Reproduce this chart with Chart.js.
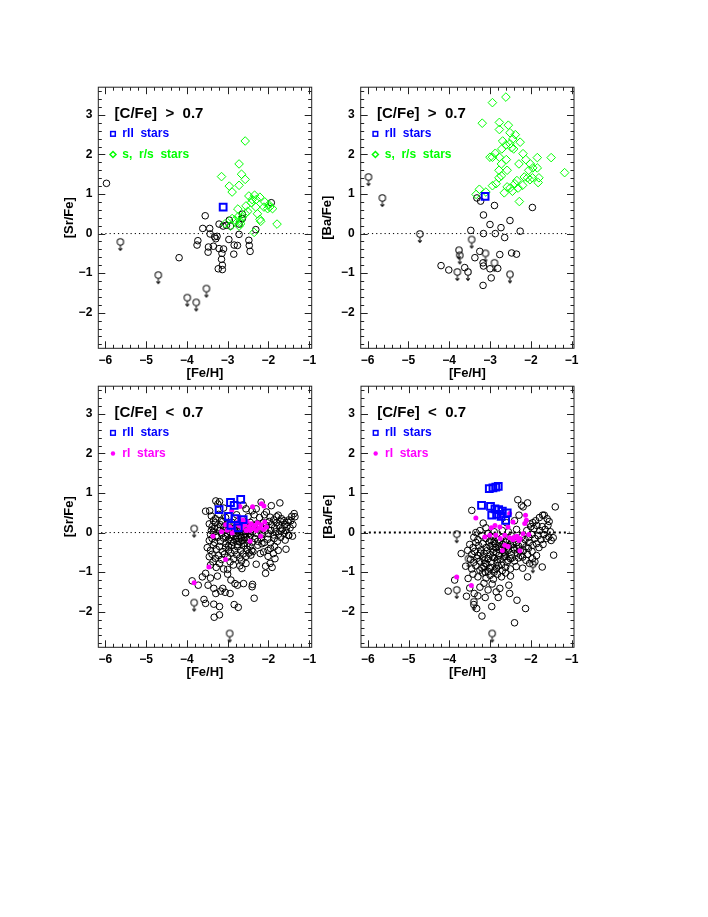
<!DOCTYPE html>
<html>
<head>
<meta charset="utf-8">
<script src="https://cdn.jsdelivr.net/npm/chart.js@4.4.1/dist/chart.umd.min.js"></script>
<style>
  html, body { margin: 0; padding: 0; background: #fff; width: 708px; height: 917px; overflow: hidden; }
  canvas { position: absolute; }
</style>
</head>
<body>
<script>
// values: [ [Fe/H], [X/Fe] ]
const xTicks = [-6, -5, -4, -3, -2, -1];
const yTicks = [-2, -1, 0, 1, 2, 3];

// --- [Sr/Fe], [C/Fe] > 0.7
const srCempStars = [[-5.97,1.27],[-4.19,-0.61],[-3.55,0.45],[-3.61,0.13],[-3.44,0.13],[-3.43,-0.01],[-3.73,-0.18],[-3.75,-0.29],[-3.47,-0.34],[-3.48,-0.47],[-3.32,-0.08],[-3.29,-0.13],[-3.26,-0.07],[-3.35,-0.32],[-3.21,0.24],[-3.21,-0.38],[-3.14,-0.50],[-3.15,-0.65],[-3.23,-0.89],[-3.13,-0.91],[-3.13,-0.80],[-3.10,-0.39],[-3.11,0.19],[-3.03,0.21],[-2.97,-0.15],[-2.93,0.19],[-2.96,0.34],[-2.84,-0.29],[-2.76,-0.30],[-2.85,-0.52],[-2.72,-0.02],[-2.64,0.49],[-2.64,0.38],[-2.72,0.24],[-2.48,-0.17],[-2.47,-0.30],[-2.45,-0.45],[-2.31,0.10],[-1.93,0.78]];
const srCempLimits = [[-5.63,-0.21],[-4.70,-1.05],[-3.99,-1.62],[-3.77,-1.74],[-3.52,-1.39]];
const srCempSrs = [[-2.57,2.34],[-2.72,1.76],[-2.66,1.50],[-2.57,1.37],[-3.15,1.44],[-2.96,1.20],[-2.89,1.05],[-2.72,1.22],[-2.48,0.95],[-2.40,0.86],[-2.34,0.97],[-2.30,0.86],[-2.21,0.92],[-2.42,0.78],[-2.55,0.70],[-2.75,0.62],[-2.51,0.56],[-2.31,0.67],[-2.27,0.50],[-2.21,0.36],[-2.19,0.31],[-2.09,0.80],[-2.11,0.67],[-1.99,0.73],[-1.97,0.67],[-1.90,0.63],[-2.02,0.63],[-1.79,0.24],[-2.35,0.03],[-2.57,0.50],[-2.64,0.42],[-2.75,0.42],[-2.82,0.34],[-2.89,0.38],[-2.69,0.31],[-2.72,0.19],[-3.06,0.25],[-2.93,0.19],[-2.68,0.25]];
const srCempR2 = [[-3.11,0.67]];

// --- [Ba/Fe], [C/Fe] > 0.7
const baCempStars = [[-3.47,0.08],[-4.20,-0.81],[-4.01,-0.92],[-3.62,-0.86],[-3.37,-0.61],[-3.25,-0.45],[-3.16,-0.82],[-3.17,-0.74],[-3.17,-1.31],[-3.16,0.00],[-3.16,0.47],[-3.32,0.90],[-3.23,0.82],[-3.00,-0.89],[-2.97,-1.12],[-2.81,-0.88],[-2.76,-0.53],[-3.00,0.23],[-2.87,0.00],[-2.73,0.15],[-2.64,-0.10],[-2.89,0.71],[-2.51,0.33],[-2.26,0.06],[-2.47,-0.49],[-2.35,-0.52],[-1.96,0.66]];
const baCempLimits = [[-5.98,1.43],[-5.64,0.90],[-4.72,-0.01],[-3.45,-0.15],[-3.76,-0.42],[-3.74,-0.55],[-3.80,-0.97],[-3.54,-0.97],[-3.11,-0.50],[-2.89,-0.74],[-2.51,-1.03]];
const baCempSrs = [[-2.61,3.45],[-2.94,3.31],[-3.19,2.79],[-2.77,2.81],[-2.77,2.63],[-2.55,2.74],[-2.51,2.55],[-2.38,2.50],[-2.44,2.39],[-2.69,2.34],[-2.61,2.24],[-2.51,2.27],[-2.47,2.17],[-2.42,2.14],[-2.26,2.31],[-2.71,2.14],[-2.87,2.03],[-3.00,1.93],[-2.94,1.93],[-2.77,1.93],[-2.60,1.87],[-2.72,1.76],[-2.19,2.02],[-2.12,1.87],[-2.29,1.76],[-1.84,1.92],[-1.50,1.92],[-1.17,1.54],[-2.58,1.60],[-2.78,1.60],[-2.72,1.46],[-2.78,1.41],[-2.01,1.76],[-2.05,1.60],[-1.95,1.66],[-1.84,1.66],[-2.16,1.43],[-2.34,1.34],[-2.08,1.41],[-1.96,1.41],[-1.80,1.41],[-1.82,1.29],[-2.02,1.36],[-2.58,1.18],[-2.51,1.15],[-2.45,1.07],[-2.31,1.15],[-2.39,1.26],[-2.20,1.22],[-2.94,1.21],[-2.85,1.26],[-3.26,1.12],[-3.34,0.99],[-3.10,1.05],[-2.65,1.03],[-2.28,0.81]];
const baCempR2 = [[-3.12,0.94]];

// --- [Sr/Fe], [C/Fe] < 0.7
const srNormStars = [
  [-3.29,0.80],[-3.20,0.78],[-3.24,0.72],[-2.18,0.77],[-1.72,0.75],[-2.62,0.70],
  [-3.54,0.54],[-3.44,0.55],[-3.10,0.62],[-2.55,0.60],[-2.40,0.55],[-2.30,0.60],[-1.93,0.68],[-2.05,0.52],
  [-3.40,0.42],[-3.30,0.35],[-3.22,0.46],[-3.15,0.30],[-3.05,0.38],[-2.78,0.45],[-2.50,0.40],[-2.35,0.45],[-2.22,0.38],[-2.10,0.45],[-1.96,0.39],[-1.87,0.32],[-1.80,0.40],[-1.76,0.44],[-1.68,0.35],[-1.62,0.30],[-1.50,0.32],[-1.43,0.41],[-1.37,0.48],[-1.35,0.40],[-1.45,0.30],[-3.35,0.30],
  [-3.45,0.22],[-3.38,0.15],[-3.30,0.25],[-3.25,0.12],[-3.18,0.20],[-3.12,0.28],[-3.08,0.15],[-3.00,0.22],[-2.90,0.26],[-2.82,0.20],[-2.75,0.28],[-2.70,0.18],[-2.58,0.24],[-2.50,0.15],[-2.45,0.26],[-2.36,0.18],[-2.28,0.22],[-2.20,0.14],[-2.12,0.25],[-2.05,0.18],[-1.98,0.28],[-1.92,0.20],[-1.85,0.12],[-1.80,0.25],[-1.74,0.18],[-1.70,0.28],[-1.66,0.10],[-1.60,0.20],[-1.55,0.15],[-1.52,0.26],[-1.47,0.12],[-1.40,0.20],[-3.40,0.05],[-3.32,0.10],
  [-3.42,-0.05],[-3.35,0.02],[-3.28,-0.08],[-3.20,0.05],[-3.15,-0.03],[-3.06,0.06],[-3.00,-0.06],[-2.95,0.02],[-2.88,-0.05],[-2.83,0.05],[-2.78,-0.02],[-2.72,0.06],[-2.68,-0.07],[-2.62,0.02],[-2.56,-0.04],[-2.50,0.05],[-2.44,-0.06],[-2.38,0.03],[-2.30,-0.02],[-2.22,0.06],[-2.16,-0.05],[-2.08,0.04],[-2.00,-0.03],[-1.94,0.05],[-1.88,-0.06],[-1.82,0.02],[-1.75,-0.04],[-1.69,0.04],[-1.62,-0.02],[-1.51,-0.07],[-1.41,-0.09],[-1.57,0.05],
  [-3.05,-0.10],[-2.98,0.08],[-2.92,-0.22],[-2.85,0.00],[-2.80,-0.08],[-2.76,-0.30],[-2.72,-0.16],[-2.68,0.10],[-2.64,-0.20],[-2.60,-0.06],[-2.56,0.10],[-2.52,-0.28],[-2.48,-0.02],[-2.44,0.12],[-2.98,-0.34],[-2.90,0.10],[-3.02,0.12],[-2.70,-0.24],[-2.58,-0.12],[-2.66,0.02],
  [-3.45,-0.20],[-3.38,-0.15],[-3.32,-0.25],[-3.25,-0.12],[-3.18,-0.22],[-3.10,-0.14],[-3.04,-0.28],[-2.98,-0.18],[-2.92,-0.12],[-2.86,-0.25],[-2.80,-0.16],[-2.74,-0.22],[-2.66,-0.13],[-2.60,-0.27],[-2.53,-0.18],[-2.47,-0.12],[-2.40,-0.24],[-2.33,-0.15],[-2.26,-0.22],[-2.18,-0.14],[-2.10,-0.25],[-2.02,-0.17],[-1.95,-0.26],[-1.86,-0.15],[-1.78,-0.22],[-1.70,-0.12],[-1.59,-0.19],[-1.50,-0.07],
  [-3.50,-0.38],[-3.42,-0.45],[-3.35,-0.32],[-3.28,-0.42],[-3.20,-0.35],[-3.12,-0.48],[-3.05,-0.38],[-2.97,-0.44],[-2.90,-0.33],[-2.83,-0.46],[-2.76,-0.36],[-2.68,-0.45],[-2.60,-0.34],[-2.52,-0.42],[-2.45,-0.35],[-2.38,-0.48],[-2.26,-0.32],[-2.16,-0.28],[-2.01,-0.45],[-1.95,-0.40],[-1.76,-0.45],[-1.57,-0.42],[-1.85,-0.35],
  [-3.45,-0.61],[-3.38,-0.55],[-3.30,-0.65],[-3.22,-0.58],[-3.15,-0.68],[-3.08,-0.55],[-3.00,-0.62],[-2.92,-0.52],[-2.85,-0.66],[-2.78,-0.56],[-2.70,-0.64],[-2.62,-0.54],[-2.55,-0.60],[-2.48,-0.52],[-2.43,-0.57],[-2.41,-0.45],[-2.20,-0.53],[-2.12,-0.49],[-1.88,-0.53],[-1.84,-0.66],[-2.01,-0.60],
  [-3.42,-0.82],[-3.36,-0.74],[-3.28,-0.88],[-3.20,-0.78],[-3.10,-0.92],[-3.00,-0.93],[-2.94,-0.74],[-2.86,-0.82],[-2.70,-0.84],[-2.66,-0.72],[-2.65,-0.91],[-2.55,-0.78],[-2.30,-0.80],[-1.96,-0.78],[-1.91,-0.88],[-2.07,-0.85],
  [-4.03,-1.52],[-3.87,-1.22],[-3.72,-1.33],[-3.54,-1.03],[-3.42,-1.15],[-3.48,-1.33],[-3.34,-1.41],[-3.17,-1.48],[-3.29,-1.54],[-3.12,-1.41],[-3.06,-1.51],[-2.92,-1.20],[-2.82,-1.29],[-2.61,-1.29],[-2.39,-1.31],[-2.40,-1.37],[-2.76,-1.33],[-2.94,-1.54],[-3.58,-1.69],[-3.54,-1.79],[-3.34,-1.81],[-3.20,-1.87],[-3.33,-2.14],[-3.20,-2.08],[-2.84,-1.82],[-2.74,-1.89],[-2.35,-1.66],[-2.07,-1.03],[-3.00,-1.05],[-3.25,-1.10],[-3.62,-1.12]
];
const srNormLimits = [[-3.82,0.10],[-3.82,-1.77],[-2.95,-2.55]];
const srNormR1 = [[-3.82,-1.27],[-3.46,-0.87],[-3.05,-0.68],[-3.36,-0.09],[-3.15,0.02],[-3.01,0.06],[-2.89,-0.01],[-2.90,0.56],[-2.70,0.66],[-2.39,0.65],[-2.17,0.73],[-2.11,0.67],[-2.45,-0.22],[-2.19,-0.09],[-2.09,0.27],[-2.05,0.14],[-2.78,0.25],[-2.72,0.18],[-2.65,0.12],[-2.58,0.20],[-2.52,0.28],[-2.48,0.15],[-2.42,0.22],[-2.38,0.10],[-2.32,0.18],[-2.27,0.25],[-2.22,0.12],[-2.18,0.20],[-2.12,0.08],[-2.62,0.32],[-2.55,0.05],[-2.45,0.05],[-2.30,0.05],[-2.85,0.10],[-2.95,0.15],[-3.05,0.20],[-2.72,0.39]];
const srNormR2 = [[-3.21,0.58],[-2.93,0.76],[-2.84,0.69],[-2.68,0.84],[-2.98,0.41],[-2.82,0.35],[-2.62,0.33],[-2.92,0.18],[-2.74,0.12]];

// --- [Ba/Fe], [C/Fe] < 0.7
const baNormStars = [
  [-3.45,0.56],[-2.32,0.83],[-2.19,0.65],[-2.08,0.75],[-1.40,0.65],[-2.23,0.69],
  [-3.17,0.24],[-2.29,0.44],[-1.71,0.44],[-1.67,0.44],[-1.79,0.38],[-1.88,0.30],[-1.95,0.25],[-2.02,0.22],[-1.60,0.35],[-1.55,0.28],[-2.40,0.30],[-2.60,0.25],
  [-3.35,0.00],[-3.25,0.05],[-3.10,0.12],[-2.00,0.15],[-1.92,0.10],[-1.85,0.18],[-1.78,0.05],[-1.72,0.15],[-1.65,0.08],[-1.58,0.18],[-1.52,0.02],[-2.10,0.05],[-2.35,0.08],[-2.55,0.02],[-2.70,0.05],[-2.90,0.02],[-3.05,-0.02],
  [-3.40,-0.12],[-3.30,-0.18],[-3.20,-0.08],[-3.10,-0.15],[-2.98,-0.19],[-2.92,-0.10],[-2.80,-0.18],[-2.70,-0.12],[-2.60,-0.19],[-2.48,-0.08],[-2.40,-0.16],[-2.22,-0.10],[-2.14,-0.18],[-2.05,-0.12],[-1.98,-0.05],[-1.90,-0.15],[-1.82,-0.08],[-1.75,-0.18],[-1.68,-0.05],[-1.62,-0.15],[-1.56,-0.11],[-1.45,-0.13],[-1.50,-0.20],
  [-3.50,-0.30],[-3.42,-0.38],[-3.35,-0.25],[-3.28,-0.33],[-3.18,-0.28],[-3.10,-0.38],[-3.02,-0.24],[-2.95,-0.32],[-2.86,-0.38],[-2.78,-0.26],[-2.72,-0.36],[-2.62,-0.24],[-2.50,-0.30],[-2.42,-0.38],[-2.36,-0.26],[-2.30,-0.34],[-2.20,-0.28],[-2.12,-0.36],[-2.04,-0.25],[-1.95,-0.32],[-1.86,-0.28],[-1.80,-0.38],[-1.70,-0.30],[-2.90,-0.22],[-2.55,-0.36],
  [-3.71,-0.53],[-3.55,-0.45],[-3.45,-0.55],[-3.38,-0.48],[-3.30,-0.58],[-3.22,-0.44],[-3.15,-0.52],[-3.08,-0.46],[-3.00,-0.56],[-2.93,-0.42],[-2.85,-0.50],[-2.78,-0.58],[-2.70,-0.44],[-2.63,-0.54],[-2.56,-0.46],[-2.48,-0.56],[-2.40,-0.44],[-2.33,-0.52],[-2.25,-0.58],[-2.18,-0.46],[-2.08,-0.55],[-1.97,-0.48],[-1.86,-0.58],[-1.44,-0.57],
  [-3.00,-0.35],[-2.94,-0.62],[-2.88,-0.28],[-2.82,-0.68],[-2.76,-0.44],[-2.72,-0.82],[-2.68,-0.30],[-2.64,-0.60],[-2.60,-0.42],[-2.56,-0.70],[-2.52,-0.20],[-2.46,-0.64],[-2.44,-0.30],[-3.08,-0.80],[-3.02,-0.90],[-2.90,-1.00],[-3.12,-1.00],[-2.84,-0.90],[-3.20,-0.90],[-2.66,-0.50],[-2.78,-0.36],[-2.92,-0.50],[-3.14,-0.70],[-3.24,-0.52],[-2.34,-0.40],[-2.26,-0.46],[-2.20,-0.62],[-2.06,-0.40],
  [-3.48,-0.68],[-3.40,-0.75],[-3.32,-0.65],[-3.25,-0.72],[-3.18,-0.62],[-3.12,-0.78],[-3.05,-0.66],[-2.98,-0.74],[-2.90,-0.64],[-2.82,-0.76],[-2.75,-0.68],[-2.66,-0.62],[-2.58,-0.75],[-2.50,-0.66],[-2.40,-0.72],[-2.30,-0.64],[-2.12,-0.70],[-2.03,-0.78],[-1.96,-0.66],[-1.90,-0.74],[-1.72,-0.87],
  [-3.60,-0.85],[-3.45,-0.92],[-3.35,-0.84],[-3.25,-0.95],[-3.15,-0.86],[-3.05,-0.98],[-2.98,-0.88],[-2.88,-0.94],[-2.80,-0.84],[-2.70,-0.96],[-2.62,-0.88],[-2.50,-0.92],[-2.36,-0.86],[-2.20,-0.90],
  [-3.87,-1.20],[-3.54,-1.16],[-3.42,-1.05],[-3.30,-1.12],[-3.18,-1.02],[-3.10,-1.15],[-3.00,-1.08],[-2.92,-1.18],[-2.82,-1.05],[-2.72,-1.12],[-2.62,-1.02],[-2.08,-1.12],[-2.50,-1.10],
  [-4.03,-1.48],[-3.58,-1.61],[-3.40,-1.82],[-3.33,-1.92],[-3.20,-2.11],[-2.96,-1.87],[-3.12,-1.64],[-2.80,-1.64],[-2.40,-2.28],[-2.34,-1.71],[-2.13,-1.92],[-2.76,-1.41],[-2.54,-1.33],[-2.52,-1.54],[-3.39,-1.54],[-3.25,-1.38],[-3.05,-1.45],[-2.95,-1.30],[-3.15,-1.28],[-2.85,-1.50],[-3.50,-1.40],[-3.30,-1.60]
];
const baNormLimits = [[-3.82,-0.04],[-3.82,-1.45],[-2.95,-2.55],[-3.53,-0.66],[-1.95,-0.80],[-3.40,-1.75]];
const baNormR1 = [[-3.82,-1.12],[-3.46,-1.34],[-3.35,0.37],[-2.52,0.48],[-2.13,0.44],[-2.11,0.31],[-2.15,0.23],[-2.44,0.27],[-2.88,0.18],[-2.97,0.12],[-2.76,0.14],[-2.56,0.14],[-3.01,-0.07],[-3.13,-0.11],[-2.86,-0.07],[-2.75,-0.15],[-2.64,-0.07],[-2.52,-0.13],[-2.44,-0.18],[-2.34,-0.09],[-2.26,-0.15],[-2.19,-0.03],[-2.05,-0.05],[-2.64,-0.32],[-2.56,-0.35],[-2.70,-0.45],[-2.27,-0.46],[-2.29,-0.20],[-2.76,0.39],[-2.40,-0.11],[-2.32,-0.15]];
const baNormR2 = [[-3.02,1.11],[-2.93,1.13],[-2.86,1.15],[-2.80,1.17],[-3.21,0.69],[-2.99,0.66],[-2.88,0.60],[-2.79,0.58],[-2.70,0.54],[-2.58,0.50],[-2.96,0.44],[-2.84,0.46],[-2.73,0.41],[-2.62,0.31]];

const X_MIN = -6.17, X_MAX = -0.94, Y_MIN = -2.9, Y_MAX = 3.7;
const FONT = '"Liberation Sans", Arial, sans-serif';
const pts = arr => arr.map(([x, y]) => ({ x, y }));
const fmt = v => (v < 0 ? '\u2212' + Math.abs(v) : String(v));

// open circle with a short downward arrow (upper limit)
function limitMarker() {
    const c = document.createElement('canvas');
    c.width = 14; c.height = 30;
    const g = c.getContext('2d');
    g.strokeStyle = '#111';
    g.lineWidth = 1.1;
    g.beginPath(); g.arc(7, 15, 3.2, 0, 2 * Math.PI); g.stroke();
    g.beginPath();
    g.moveTo(7, 18.2); g.lineTo(7, 23.5);
    g.moveTo(5.2, 21.3); g.lineTo(7, 23.5); g.lineTo(8.8, 21.3);
    g.stroke();
    return c;
}
const limitImg = limitMarker();

// frame with inward ticks on all sides + in-plot legend text
const framePlugin = {
    id: 'frame',
    afterDatasetsDraw(chart, args, opts) {
        const { ctx, chartArea: a, scales: { x, y } } = chart;
        ctx.save();
        ctx.strokeStyle = '#222';
        ctx.lineWidth = 1;
        ctx.strokeRect(a.left, a.top, a.right - a.left, a.bottom - a.top);
        ctx.beginPath();
        for (let i = -31; i <= -4; i++) {
            const v = i / 5;
            if (v <= X_MIN || v >= X_MAX) continue;
            const px = Math.round(x.getPixelForValue(v)) + 0.5;
            const len = i % 5 === 0 ? 7 : 3.5;
            ctx.moveTo(px, a.bottom); ctx.lineTo(px, a.bottom - len);
            ctx.moveTo(px, a.top); ctx.lineTo(px, a.top + len);
        }
        for (let i = -14; i <= 18; i++) {
            const v = i / 5;
            if (v <= Y_MIN || v >= Y_MAX) continue;
            const py = Math.round(y.getPixelForValue(v)) + 0.5;
            const len = i % 5 === 0 ? 7 : 3.5;
            ctx.moveTo(a.left, py); ctx.lineTo(a.left + len, py);
            ctx.moveTo(a.right, py); ctx.lineTo(a.right - len, py);
        }
        ctx.stroke();

        ctx.textBaseline = 'middle';
        ctx.textAlign = 'left';
        ctx.fillStyle = '#000';
        ctx.font = 'bold 15px ' + FONT;
        ctx.fillText(opts.title, x.getPixelForValue(-5.77), y.getPixelForValue(3.02));

        ctx.font = 'bold 12px ' + FONT;
        opts.rows.forEach((row, i) => {
            const cy = y.getPixelForValue(i === 0 ? 2.52 : 2.0);
            const mx = x.getPixelForValue(-5.81);
            ctx.strokeStyle = row.color;
            ctx.fillStyle = row.color;
            ctx.lineWidth = 1.5;
            if (row.marker === 'square') {
                ctx.strokeRect(mx - 2.3, cy - 2.3, 4.6, 4.6);
            } else if (row.marker === 'diamond') {
                ctx.beginPath();
                ctx.moveTo(mx, cy - 3); ctx.lineTo(mx + 3, cy); ctx.lineTo(mx, cy + 3); ctx.lineTo(mx - 3, cy);
                ctx.closePath(); ctx.stroke();
            } else {
                ctx.beginPath(); ctx.arc(mx, cy, 2.2, 0, 2 * Math.PI); ctx.fill();
            }
            ctx.fillText(row.text, x.getPixelForValue(-5.58), cy);
        });
        ctx.restore();
    }
};

function makePanel(p) {
    const titleHalf = 7.8;        // half line height of the axis titles
    const xH = 33;
    const axisLeft = p.yTitleX - titleHalf;
    const cl = Math.floor(axisLeft - 2);
    const ct = Math.floor(p.top - 12);
    const cw = Math.ceil(p.right + 10 - cl);
    const ch = Math.ceil(p.bottom + xH + 4 - ct);

    const canvas = document.createElement('canvas');
    canvas.width = cw; canvas.height = ch;
    canvas.style.left = cl + 'px';
    canvas.style.top = ct + 'px';
    document.body.appendChild(canvas);

    const tickFont = { family: FONT, weight: 'bold', size: 12 };
    const titleFont = { family: FONT, weight: 'bold', size: 13, lineHeight: 1.2 };

    const datasets = [
        { data: pts(p.r2), pointStyle: 'rect', pointRadius: 4.8, pointBorderWidth: 2,
          pointBorderColor: '#0000ff', pointBackgroundColor: 'rgba(0,0,0,0)', order: 0 },
        p.srs ? { data: pts(p.srs), pointStyle: 'rectRot', pointRadius: 4.3, pointBorderWidth: 1,
                  pointBorderColor: '#00ff00', pointBackgroundColor: 'rgba(0,0,0,0)', order: 1 }
              : { data: pts(p.r1), pointStyle: 'circle', pointRadius: 2.5, pointBorderWidth: 0,
                  pointBorderColor: '#ff00ff', pointBackgroundColor: '#ff00ff', order: 1 },
        { data: pts(p.limits), pointStyle: limitImg, pointRadius: 5, order: 2 },
        { data: pts(p.stars), pointStyle: 'circle', pointRadius: 3.3, pointBorderWidth: 1,
          pointBorderColor: '#000', pointBackgroundColor: 'rgba(0,0,0,0)', order: 3 },
        { data: [{ x: -6.1, y: 0 }, { x: -1.05, y: 0 }], showLine: true, pointRadius: 0,
          borderColor: '#000', borderWidth: p.zeroWidth, borderDash: p.zeroDash, order: 4 }
    ];

    return new Chart(canvas, {
        type: 'scatter',
        data: { datasets },
        options: {
            responsive: false,
            animation: false,
            devicePixelRatio: 1,
            events: [],
            layout: {
                padding: {
                    left: axisLeft - cl,
                    right: cl + cw - p.right,
                    top: p.top - ct,
                    bottom: ct + ch - (p.bottom + xH)
                }
            },
            plugins: {
                legend: { display: false },
                tooltip: { enabled: false },
                frame: { title: p.title, rows: p.rows }
            },
            scales: {
                x: {
                    type: 'linear', position: 'bottom', min: X_MIN, max: X_MAX,
                    afterBuildTicks: s => { s.ticks = xTicks.map(v => ({ value: v })); },
                    afterFit: s => { s.height = xH; },
                    grid: { display: false, drawTicks: false },
                    border: { display: false },
                    ticks: { padding: 5, color: '#000', font: tickFont, callback: fmt, maxRotation: 0, autoSkip: false },
                    title: { display: true, text: '[Fe/H]', color: '#000', font: titleFont, padding: 0 }
                },
                y: {
                    type: 'linear', position: 'left', min: Y_MIN, max: Y_MAX,
                    afterBuildTicks: s => { s.ticks = yTicks.map(v => ({ value: v })); },
                    afterFit: s => { s.width = p.left - axisLeft; },
                    grid: { display: false, drawTicks: false },
                    border: { display: false },
                    ticks: { padding: 6, color: '#000', font: tickFont, callback: fmt, autoSkip: false },
                    title: { display: true, text: p.yTitle, color: '#000', font: titleFont, padding: 0 }
                }
            }
        },
        plugins: [framePlugin]
    });
}

const rowsCemp = [
    { marker: 'square', color: '#0000ff', text: 'rII  stars' },
    { marker: 'diamond', color: '#00ff00', text: 's,  r/s  stars' }
];
const rowsNorm = [
    { marker: 'square', color: '#0000ff', text: 'rII  stars' },
    { marker: 'dot', color: '#ff00ff', text: 'rI  stars' }
];

makePanel({ left: 98.3, right: 311.7, top: 86.7, bottom: 348.3, yTitleX: 69.5, yTitle: '[Sr/Fe]',
    title: '[C/Fe]  >  0.7', rows: rowsCemp, stars: srCempStars, limits: srCempLimits, srs: srCempSrs, r2: srCempR2,
    zeroWidth: 1, zeroDash: [1.2, 3] });
makePanel({ left: 360.7, right: 574, top: 86.7, bottom: 348.3, yTitleX: 327.5, yTitle: '[Ba/Fe]',
    title: '[C/Fe]  >  0.7', rows: rowsCemp, stars: baCempStars, limits: baCempLimits, srs: baCempSrs, r2: baCempR2,
    zeroWidth: 1, zeroDash: [1.2, 3] });
makePanel({ left: 98.3, right: 311.7, top: 385.7, bottom: 647.3, yTitleX: 69, yTitle: '[Sr/Fe]',
    title: '[C/Fe]  <  0.7', rows: rowsNorm, stars: srNormStars, limits: srNormLimits, r1: srNormR1, r2: srNormR2,
    zeroWidth: 1, zeroDash: [1.2, 3] });
makePanel({ left: 361, right: 574, top: 385.7, bottom: 647.3, yTitleX: 328, yTitle: '[Ba/Fe]',
    title: '[C/Fe]  <  0.7', rows: rowsNorm, stars: baNormStars, limits: baNormLimits, r1: baNormR1, r2: baNormR2,
    zeroWidth: 2, zeroDash: [2, 3] });
</script>
</body>
</html>
